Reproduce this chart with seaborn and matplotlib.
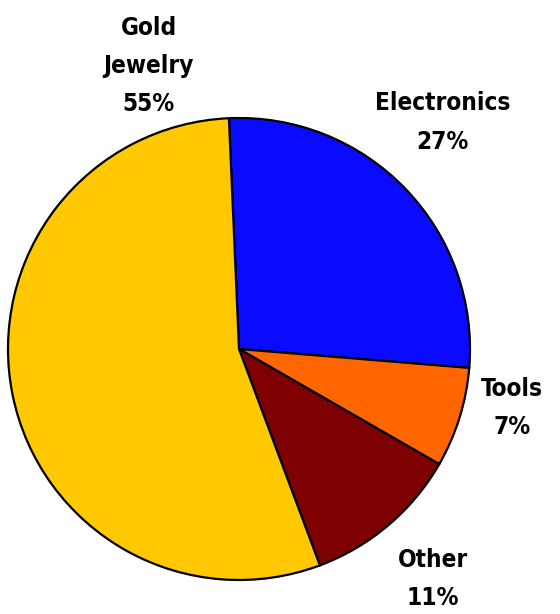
import matplotlib
matplotlib.use("Agg")
import matplotlib.pyplot as plt
import seaborn as sns

# Share of sales by category (percent)
categories = ["Electronics", "Tools", "Other", "Gold\nJewelry"]
shares = [27, 7, 11, 55]
colors = ["#0A0AFF", "#FF6600", "#7F0000", "#FFC800"]

# label anchor points in pie data coordinates (radius 1)
label_x = [0.88, 1.18, 0.84, -0.39]
label_y = [0.98, -0.255, -0.995, 1.225]

sns.set_theme(style="white")
plt.rcParams["font.family"] = ["DejaVu Sans"]

fig = plt.figure(figsize=(5.6, 6.14), dpi=100)
ax = fig.add_axes([8 / 560, (614 - 580) / 614, 462 / 560, 462 / 614])

ax.pie(
    shares,
    colors=colors,
    startangle=92.5,
    counterclock=False,
    radius=1.0,
    wedgeprops=dict(edgecolor="black", linewidth=1.6),
)
ax.set_xlim(-1, 1)
ax.set_ylim(-1, 1)
ax.set_aspect("equal")
ax.axis("off")

for name, val, x, y in zip(categories, shares, label_x, label_y):
    ax.text(x, y, f"{name}\n{val}%", ha="center", va="center",
            fontsize=17.5, fontweight="bold", fontstretch="condensed",
            color="black", linespacing=1.75, clip_on=False)

fig.savefig("out.png", dpi=100, facecolor="white")
